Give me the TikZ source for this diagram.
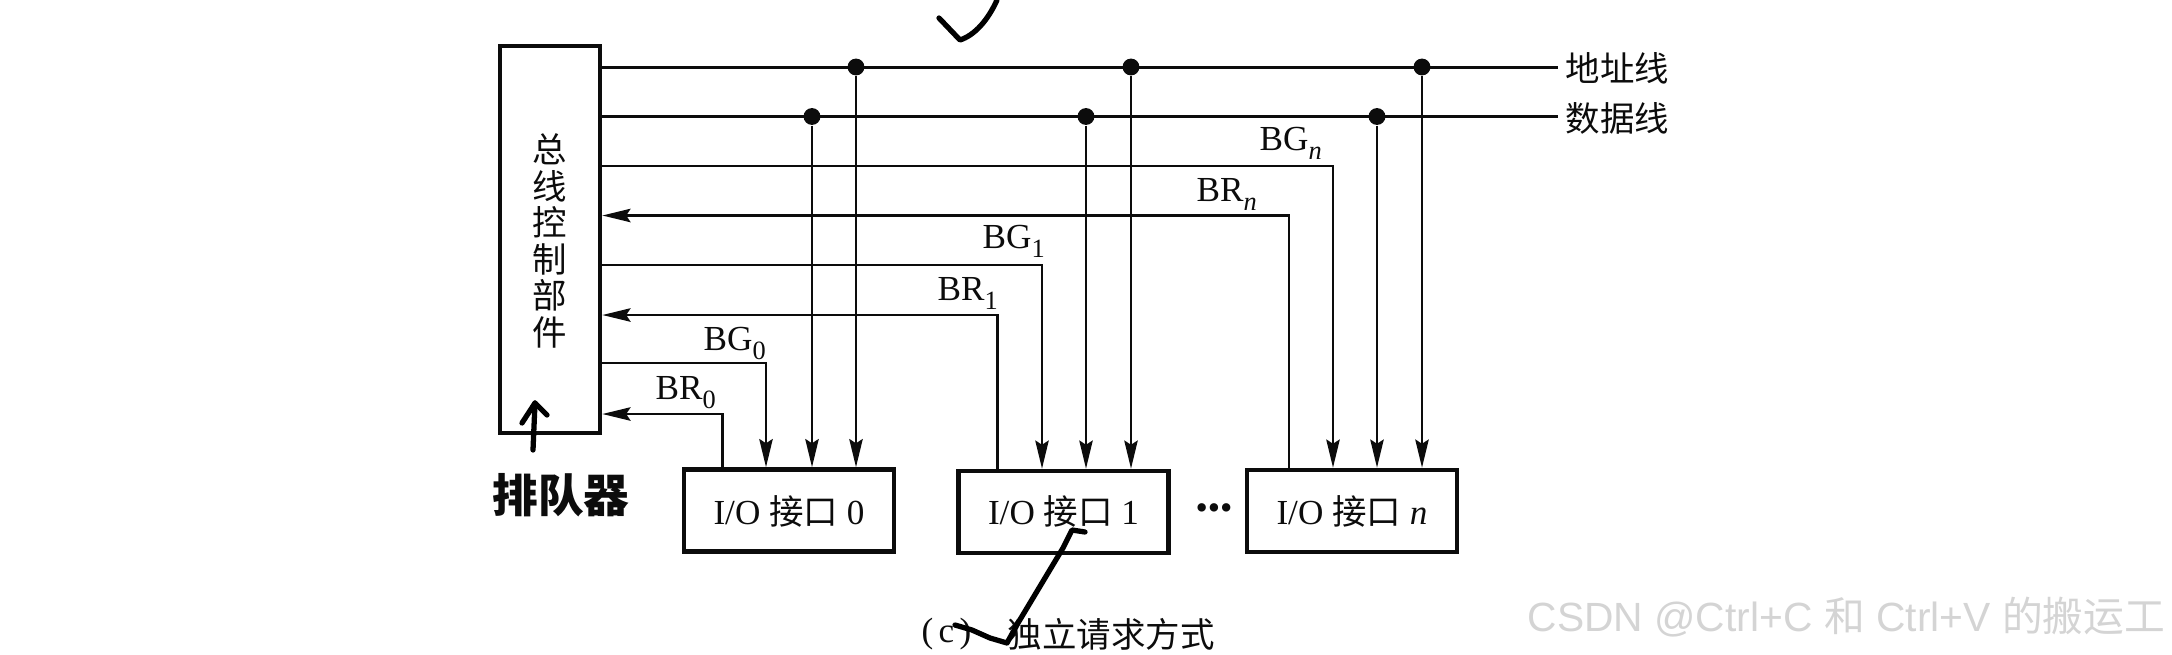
\documentclass[tikz,border=0pt]{standalone}
\usepackage{fontspec}
\setmainfont{Liberation Serif}
\setsansfont{Liberation Sans}
\newfontfamily\cjk{Noto Sans CJK SC}
\usetikzlibrary{arrows.meta}
\definecolor{ink}{HTML}{0c0c0c}
\definecolor{wmark}{HTML}{d4d4d4}
\newcommand{\sigsub}[1]{\raisebox{-2.8pt}{\fontsize{7.5}{8}\selectfont #1}}
\newcommand{\cjkin}[1]{{\cjk\fontsize{9.8}{12}\selectfont #1}}
\begin{document}
\begin{tikzpicture}[x=0.01cm, y=-0.01cm, font=\fontsize{10}{12}\selectfont, ink,
  busline/.style={draw=ink, line width=0.85pt},
  sig/.style={draw=ink, line width=0.75pt, line join=miter},
  arr/.style={sig, -{Stealth[length=8pt, width=3.8pt, inset=1.2pt]}},
  box/.style={draw=ink, line width=1.3pt, inner sep=0pt, align=center},
  iobox/.style={box, minimum width=2.1cm, minimum height=0.82cm},
  jdot/.style={circle, fill=ink, inner sep=0pt, minimum size=4.8pt},
  lab/.style={inner sep=0pt},
  pen/.style={draw=black, line width=1.5pt, line cap=round, line join=round}
]
  \useasboundingbox (0,0) rectangle (2172,654);

  \node[box, minimum width=1cm, minimum height=3.87cm] (ctrl) at (550,239.5) {};
  \node[lab, align=center, font=\cjk\fontsize{9.8}{10.4}\selectfont] (ctrlt) at (550,241) {总\\线\\控\\制\\部\\件};

  \node[iobox] (io0) at (789,510.5) {};
  \node[iobox] (io1) at (1063.5,512) {};
  \node[iobox] (ion) at (1352,511) {};
  \node[lab, anchor=base] (io0t) at (789,524) {I/O \cjkin{接口} 0};
  \node[lab, anchor=base] (io1t) at (1063.5,524) {I/O \cjkin{接口} 1};
  \node[lab, anchor=base] (iont) at (1352,524) {I/O \cjkin{接口} \textit{n}};
  \node[lab] (dots) at (1214,512) {•••};

  % bus labels
  \node[lab, anchor=west] (addr) at (1565,68) {\cjkin{地址线}};
  \node[lab, anchor=west] (data) at (1565,118) {\cjkin{数据线}};

  \draw[busline] (ctrl.east |- addr) ++(0,-1) -- (1558,67);
  \draw[busline] (ctrl.east |- data) ++(0,-1.5) -- (1558,116.5);

  \foreach \nm/\xa/\xd/\io in {0/856/812/io0, 1/1131/1086/io1, n/1422/1377/ion} {
    \node[jdot] (a\nm) at (\xa,67) {};
    \node[jdot] (d\nm) at (\xd,116.5) {};
    \draw[arr] (a\nm) -- (a\nm |- \io.north);
    \draw[arr] (d\nm) -- (d\nm |- \io.north);
  }

  % request and grant lines
  \foreach \nm/\xg/\yg/\xr/\yr/\io in {0/766/363/722.5/414/io0, 1/1042/265/997.5/315/io1, n/1333/166/1289/215.5/ion} {
    \coordinate (g\nm) at (\xg,\yg);
    \coordinate (r\nm) at (\xr,\yr);
    \draw[arr] (ctrl.east |- g\nm) -- (g\nm) -- (g\nm |- \io.north);
    \draw[arr] (r\nm |- \io.north) -- (r\nm) -- (ctrl.east |- r\nm);
  }

  \node[lab, anchor=base west] (bg0) at (703,350) {BG\sigsub{0}};
  \node[lab, anchor=base west] (br0) at (655,399) {BR\sigsub{0}};
  \node[lab, anchor=base west] (bg1) at (982,248) {BG\sigsub{1}};
  \node[lab, anchor=base west] (br1) at (937,300) {BR\sigsub{1}};
  \node[lab, anchor=base west] (bgn) at (1259,150) {BG\sigsub{\textit{n}}};
  \node[lab, anchor=base west] (brn) at (1196,201) {BR\sigsub{\textit{n}}};

  % caption
  \node[lab, anchor=west] (capl) at (921,634) {(\hspace{1.5pt}c\hspace{1.5pt})};
  \node[lab, anchor=west] (cap) at (1007,634) {\cjkin{独立请求方式}};

  % handwriting
  \node[lab, font=\cjk\bfseries\fontsize{13}{15}\selectfont] (queue) at (561,495) {排队器};
  \draw[pen] (533,450) -- (535,403);
  \draw[pen] (522,423) -- (535,403) -- (547,415);
  \draw[pen] (939,18) -- (960,40) .. controls (975,35) and (988,20) .. (997,0);
  \draw[pen] (1085,532) -- (1072,530) -- (1063,548) -- (1018,623) -- (1007,643) -- (990,638) -- (972,630) -- (955,625);

  \node[lab, anchor=west, font=\sffamily\fontsize{11.6}{14}\selectfont, text=wmark] (wm) at (1527,617) {CSDN @Ctrl+C {\cjk 和} Ctrl+V {\cjk 的搬运工}};
\end{tikzpicture}
\end{document}
